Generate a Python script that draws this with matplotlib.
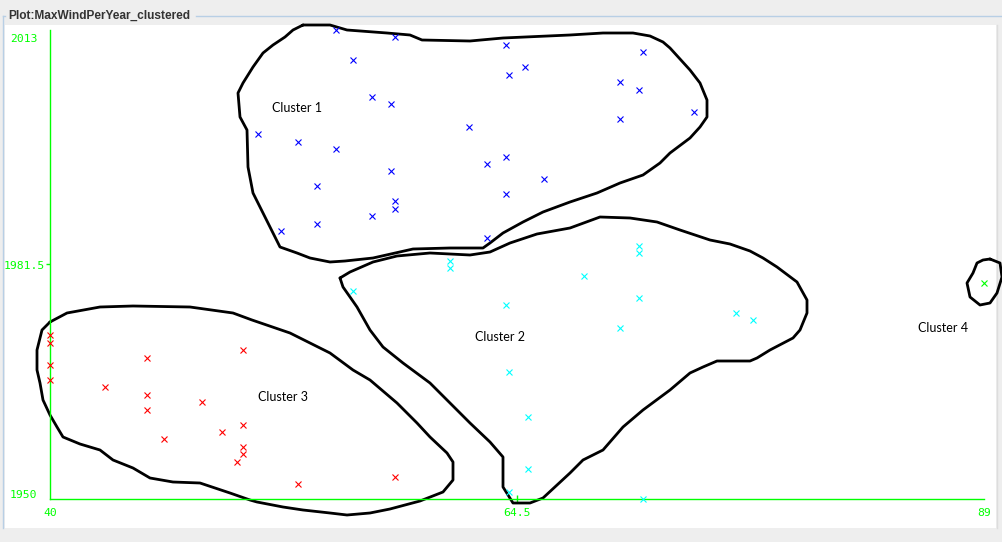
import matplotlib
matplotlib.use("Agg")
import matplotlib.pyplot as plt
from matplotlib.patches import Rectangle
from matplotlib.lines import Line2D

# max wind per year, one row per year, cluster id from the clusterer
years = list(range(1950, 2014))
max_wind = [71.1, 64.1, 53.0, 58.1, 65.1, 49.8, 50.1, 50.1, 46.0, 49.0,
            50.1, 65.1, 45.1, 48.0, 45.1, 42.9, 40.0, 64.1, 40.0, 45.1,
            50.1, 40.0, 40.0, 69.9, 76.9, 76.0, 63.9, 70.9, 55.9, 89.0,
            68.0, 61.0, 61.0, 70.9, 70.9, 62.9, 52.1, 54.0, 56.9, 58.1,
            58.1, 63.9, 54.0, 65.9, 57.9, 62.9, 63.9, 55.0, 53.0, 50.9,
            62.0, 69.9, 73.8, 57.9, 56.9, 70.9, 69.9, 64.1, 64.9, 55.9,
            71.1, 63.9, 58.1, 55.0]
cluster = [2, 2, 3, 3, 2, 3, 3, 3, 3, 3,
           3, 2, 3, 3, 3, 3, 3, 2, 3, 3,
           3, 3, 3, 2, 2, 2, 2, 2, 2, 4,
           2, 2, 2, 2, 2, 1, 1, 1, 1, 1,
           1, 1, 1, 1, 1, 1, 1, 1, 1, 1,
           1, 1, 1, 1, 1, 1, 1, 1, 1, 1,
           1, 1, 1, 1]
cluster_colors = {1: "#0000ff", 2: "#00ffff", 3: "#ff0000", 4: "#00ff00"}
cluster_names = ["Cluster 1", "Cluster 2", "Cluster 3", "Cluster 4"]
x_ticks = [40, 64.5, 89]
y_ticks = [1950, 1981.5, 2013]

W, H = 1002, 542
X0, X1, Y0, Y1 = 50, 984, 499, 30   # plot area in pixels


def fx(px):
    return px / W


def fy(py):
    return 1 - py / H


def to_data(pts):
    xs = [40 + (p[0] - X0) * 49 / (X1 - X0) for p in pts]
    ys = [1950 + (Y0 - p[1]) * 63 / (Y0 - Y1) for p in pts]
    return xs, ys


# hand drawn outlines round the clusters (traced, in pixels)
outline_1 = [(303, 25), (330, 25), (347, 30), (387, 33), (410, 35), (422, 40), (470, 41),
             (503, 38), (570, 35), (603, 33), (633, 33), (650, 36), (663, 42), (670, 48),
             (690, 70), (700, 83), (707, 100), (707, 117), (700, 127), (690, 138),
             (670, 153), (660, 163), (643, 175), (620, 183), (597, 193), (570, 202),
             (543, 212), (523, 222), (503, 233), (490, 243), (483, 248), (450, 248),
             (413, 249), (373, 258), (345, 261), (330, 262), (310, 258), (297, 253),
             (280, 247), (273, 233), (263, 213), (253, 193), (248, 167), (247, 130),
             (240, 117), (238, 93), (243, 83), (253, 67), (263, 53), (273, 45),
             (285, 37), (293, 30), (303, 25)]
outline_2 = [(340, 278), (350, 272), (373, 262), (397, 256), (430, 253), (470, 255),
             (490, 252), (510, 243), (537, 234), (570, 228), (600, 217), (630, 218),
             (657, 222), (680, 230), (710, 240), (730, 244), (750, 251), (763, 258),
             (777, 267), (797, 282), (807, 300), (807, 313), (800, 330), (793, 338),
             (770, 350), (757, 358), (750, 361), (717, 361), (703, 367), (690, 373),
             (670, 390), (643, 410), (623, 427), (603, 450), (583, 460), (570, 473),
             (543, 498), (530, 503), (513, 503), (503, 487), (503, 457), (490, 442),
             (470, 423), (450, 403), (430, 383), (403, 363), (383, 347), (370, 330),
             (357, 307), (343, 287), (340, 278)]
outline_3 = [(50, 322), (67, 313), (100, 307), (133, 306), (190, 307), (233, 313),
             (252, 320), (290, 333), (330, 353), (353, 370), (370, 380), (397, 403),
             (417, 423), (430, 437), (447, 453), (453, 462), (453, 480), (443, 492),
             (420, 501), (390, 509), (370, 513), (347, 515), (330, 513), (303, 510),
             (283, 507), (257, 502), (250, 500), (230, 493), (200, 483), (173, 482),
             (150, 478), (133, 468), (113, 460), (100, 450), (80, 444), (63, 437),
             (57, 427), (50, 415), (43, 400), (40, 383), (37, 370), (37, 350),
             (42, 330), (50, 322)]
outline_4 = [(990, 259), (1000, 263), (1002, 277), (997, 293), (990, 303), (980, 305),
             (970, 297), (967, 283), (973, 273), (977, 263), (983, 260), (990, 259)]
outlines = [outline_1, outline_2, outline_3, outline_4]
label_pos = [(297, 108), (500, 337), (283, 397), (943, 328)]

fig = plt.figure(figsize=(W / 100, H / 100), dpi=100, facecolor="#eeeeee")

# white panel + titled border
fig.patches.append(Rectangle((fx(5), fy(528)), fx(996) - fx(5), fy(25) - fy(528),
                             transform=fig.transFigure, facecolor="white",
                             edgecolor="none", zorder=-2))
bc = "#b8cfe5"
for xs, ys, col in [([3, 3], [16, 528], bc), ([3, 5], [16, 16], bc),
                    ([196, 1002], [16, 16], bc), ([997, 997], [25, 528], "#dddddd")]:
    fig.lines.append(Line2D([fx(v) for v in xs], [fy(v) for v in ys],
                            transform=fig.transFigure, color=col, lw=1.0, zorder=-1))
fig.text(fx(8), fy(16), "Plot:MaxWindPerYear_clustered", ha="left", va="center",
         fontsize=8.6, fontweight="bold", color="#333333", family="Liberation Sans")

ax = fig.add_axes([fx(X0), fy(Y0), (X1 - X0) / W, (Y0 - Y1) / H])
ax.set_facecolor("none")
ax.set_xlim(40, 89)
ax.set_ylim(1950, 2013)

green = "#00ff00"
for s in ["top", "right"]:
    ax.spines[s].set_visible(False)
for s in ["left", "bottom"]:
    ax.spines[s].set_color(green)
    ax.spines[s].set_linewidth(1.0)
ax.set_xticks([x_ticks[1]])
ax.set_yticks([y_ticks[1]])
ax.tick_params(axis="x", direction="inout", length=6, width=1.0, color=green,
               labelbottom=False)
ax.tick_params(axis="y", direction="out", length=3, width=1.0, color=green,
               labelleft=False)

# tick labels as Weka places them
mono = dict(family="DejaVu Sans Mono", fontsize=8.2, color=green, va="center")
fig.text(fx(10), fy(39), str(y_ticks[2]), ha="left", **mono)
fig.text(fx(4), fy(266), str(y_ticks[1]), ha="left", **mono)
fig.text(fx(10), fy(495), str(y_ticks[0]), ha="left", **mono)
fig.text(fx(50), fy(513), str(x_ticks[0]), ha="center", **mono)
fig.text(fx(517), fy(513), str(x_ticks[1]), ha="center", **mono)
fig.text(fx(984), fy(513), str(x_ticks[2]), ha="center", **mono)

for c in [1, 2, 3, 4]:
    xs = [w for w, k in zip(max_wind, cluster) if k == c]
    ys = [y for y, k in zip(years, cluster) if k == c]
    ax.plot(xs, ys, ls="none", marker="x", ms=5, mew=0.8,
            color=cluster_colors[c], clip_on=False, zorder=3)

for ol in outlines:
    ox, oy = to_data(ol)
    ax.plot(ox, oy, color="black", lw=2.0, clip_on=False, zorder=2,
            solid_joinstyle="round", solid_capstyle="round")

for name, pos in zip(cluster_names, label_pos):
    lx, ly = to_data([pos])
    ax.text(lx[0], ly[0], name, ha="center", va="center", fontsize=9,
            family="Lato", color="black", clip_on=False)

fig.savefig("out.png", dpi=100, facecolor=fig.get_facecolor())
